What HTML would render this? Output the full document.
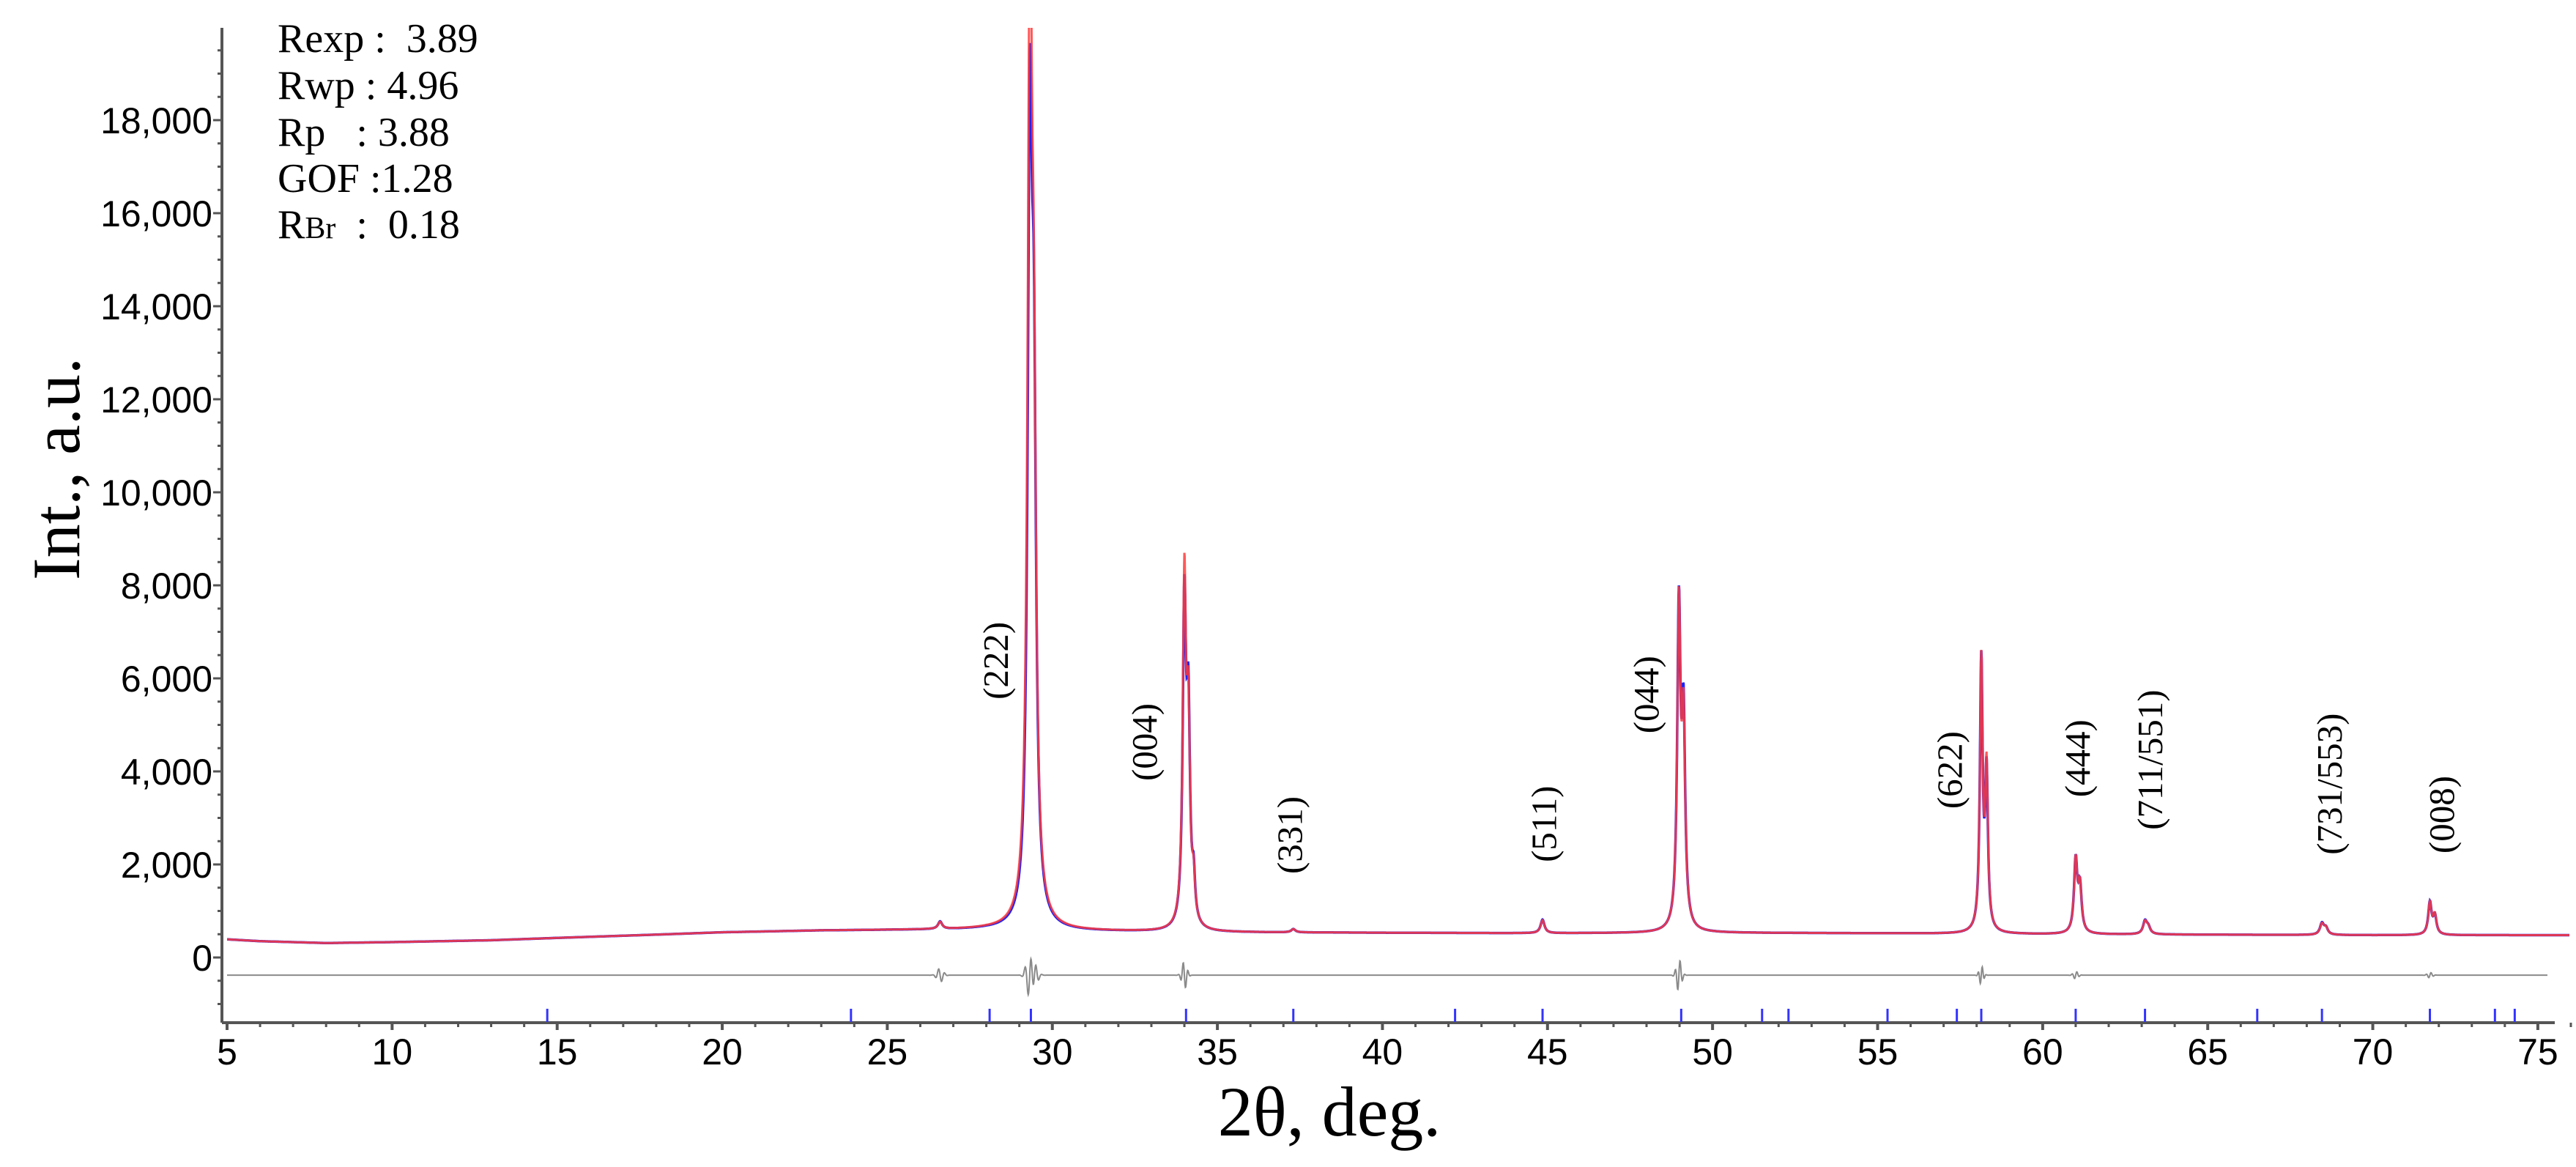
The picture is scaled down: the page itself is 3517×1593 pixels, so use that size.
<!DOCTYPE html>
<html><head><meta charset="utf-8">
<style>
html,body{margin:0;padding:0;background:#fff;}
svg{display:block;}
#stats text{white-space:pre;}
</style></head>
<body>
<svg id="chart" width="3517" height="1593" viewBox="0 0 3517 1593" xmlns="http://www.w3.org/2000/svg">
  <g id="stats" font-family="Liberation Serif, serif" font-size="56" fill="#000" xml:space="preserve">
    <text x="379" y="71">Rexp :  3.89</text>
    <text x="379" y="135">Rwp : 4.96</text>
    <text x="379" y="199">Rp   : 3.88</text>
    <text x="379" y="262">GOF :1.28</text>
    <text x="379" y="325">R<tspan font-size="42">Br</tspan>  :  0.18</text>
  </g>
  <text transform="translate(108,640) rotate(-90)" text-anchor="middle" font-family="Liberation Serif, serif" font-size="92">Int., a.u.</text>
  <text x="1815" y="1550" text-anchor="middle" font-family="Liberation Serif, serif" font-size="96">2θ, deg.</text>
  <g id="axes"></g>
  <g id="series"></g>
  <g id="labels"></g>
</svg>
<script>
// ---- data ----
const bgX = [5, 6, 8, 10, 13, 15, 18, 20, 23, 25, 28, 30, 35, 40, 45, 50, 55, 60, 65, 70, 76];
const bgY = [390, 350, 310, 330, 370, 420, 490, 540, 580, 590, 600, 570, 540, 530, 520, 530, 520, 500, 490, 480, 480];
const peakPos = [26.6, 29.32, 29.44, 34.0, 34.12, 34.28, 37.3, 44.85, 48.98, 49.12, 58.14, 58.3, 61.0, 61.13, 63.1, 63.2, 68.46, 68.58, 71.73, 71.88];
const calcHeight = [150, 19800, 9000, 7300, 4100, 800, 70, 280, 6800, 4200, 5800, 3400, 1550, 950, 260, 140, 230, 140, 680, 400];
const obsHeight = [160, 16000, 9600, 6800, 4300, 850, 70, 290, 6800, 4300, 5800, 3300, 1550, 950, 270, 140, 240, 140, 690, 390];
const peakWidth = [0.15, 0.16, 0.16, 0.12, 0.12, 0.1, 0.15, 0.14, 0.12, 0.12, 0.1, 0.1, 0.12, 0.12, 0.14, 0.14, 0.14, 0.14, 0.12, 0.12];
const diffAmp = [-150, 550, 350, -300, 0, 0, 0, 0, 350, 0, 200, 0, 80, 0, 0, 0, 0, 0, 60, 0];
const diffOffset = -380;
const reflPos = [14.7, 23.9, 28.1, 29.35, 34.05, 37.3, 42.2, 44.85, 49.05, 51.5, 52.3, 55.3, 57.4, 58.14, 61.0, 63.1, 66.5, 68.46, 71.73, 73.7, 74.3];
const xTicks = [5, 10, 15, 20, 25, 30, 35, 40, 45, 50, 55, 60, 65, 70, 75];
const yTicks = [0, 2000, 4000, 6000, 8000, 10000, 12000, 14000, 16000, 18000];
const yTickLabels = ["0", "2,000", "4,000", "6,000", "8,000", "10,000", "12,000", "14,000", "16,000", "18,000"];
const hklText = ["(222)", "(004)", "(331)", "(511)", "(044)", "(622)", "(444)", "(711/551)", "(731/553)", "(008)"];
const hklPos = [28.3, 32.8, 37.2, 44.9, 48.0, 57.2, 61.07, 63.27, 68.7, 72.1];
const hklCenterVal = [6380, 4630, 2630, 2870, 5650, 4030, 4280, 4250, 3730, 3070];

// ---- scales ----
const X0 = 310, PXD = 45.07, Y0 = 1307, PXI = 127 / 2000;
const PLOT_TOP = 38, AXIS_Y = 1396, AXIS_X = 303, AXIS_END = 3488;
const sx = v => X0 + (v - 5) * PXD;
const sy = v => Y0 - v * PXI;
const NS = "http://www.w3.org/2000/svg";
function mk(tag, attrs, parent) {
  const e = document.createElementNS(NS, tag);
  for (const k in attrs) e.setAttribute(k, attrs[k]);
  parent.appendChild(e);
  return e;
}
function bg(x) {
  for (let i = 0; i < bgX.length - 1; i++) {
    if (x <= bgX[i + 1]) { const t = (x - bgX[i]) / (bgX[i + 1] - bgX[i]); return bgY[i] + t * (bgY[i + 1] - bgY[i]); }
  }
  return bgY[bgY.length - 1];
}
function prof(x, heights) {
  let s = bg(x);
  for (let i = 0; i < peakPos.length; i++) {
    const d = (x - peakPos[i]) / (peakWidth[i] / 2);
    s += heights[i] / (1 + d * d);
  }
  return s;
}
function diff(x) {
  let s = diffOffset;
  for (let i = 0; i < peakPos.length; i++) {
    const d = (x - peakPos[i]) / (peakWidth[i] / 2);
    s += diffAmp[i] * Math.sin(d * 2.5) * Math.exp(-d * d / 3);
  }
  return s;
}
const axes = document.getElementById('axes');
const series = document.getElementById('series');
const labels = document.getElementById('labels');

const defs = mk('defs', {}, series);
const cp = mk('clipPath', { id: 'plotclip' }, defs);
mk('rect', { x: AXIS_X, y: PLOT_TOP, width: AXIS_END - AXIS_X + 20, height: AXIS_Y - PLOT_TOP }, cp);

let pObs = [], pCalc = [], pDiff = [];
for (let x = 5; x <= 76.05; x += 0.01) {
  const X = sx(x).toFixed(1);
  pObs.push(X + ',' + sy(prof(x, obsHeight)).toFixed(1));
  pCalc.push(X + ',' + sy(prof(x, calcHeight)).toFixed(1));
  if (x <= 75.3) pDiff.push(X + ',' + sy(diff(x)).toFixed(1));
}
const gDiff = mk('polyline', { points: pDiff.join(' '), fill: 'none', stroke: '#8a8a8a', 'stroke-width': 2 }, series);


const gObs = mk('polyline', { points: pObs.join(' '), fill: 'none', stroke: '#2222ee', 'stroke-width': 3.5, 'clip-path': 'url(#plotclip)' }, series);


const gCalc = mk('polyline', { points: pCalc.join(' '), fill: 'none', stroke: '#ff3b3b', 'stroke-width': 3, 'stroke-opacity': 0.85, 'clip-path': 'url(#plotclip)' }, series);



reflPos.forEach(p => {
  const l = mk('line', { x1: sx(p), x2: sx(p), y1: 1377, y2: AXIS_Y - 1, stroke: '#3333ff', 'stroke-width': 3 }, series);
  
  
});

const ya = mk('line', { x1: AXIS_X, x2: AXIS_X, y1: PLOT_TOP, y2: AXIS_Y, stroke: '#555', 'stroke-width': 4 }, axes);


const xa = mk('line', { x1: AXIS_X, x2: AXIS_END, y1: AXIS_Y, y2: AXIS_Y, stroke: '#555', 'stroke-width': 4 }, axes);



for (let d = 5; d <= 76; d++) {
  const major = xTicks.includes(d);
  mk('line', { x1: sx(d), x2: sx(d), y1: AXIS_Y, y2: AXIS_Y + (major ? 10 : 6), stroke: '#555', 'stroke-width': major ? 4 : 3 }, axes);
}
xTicks.forEach(v => {
  const t = mk('text', { x: sx(v), y: 1453, 'text-anchor': 'middle', 'font-family': 'Liberation Sans, sans-serif', 'font-size': 50 }, axes);
  t.textContent = v;
  
  
});
for (let v = -1000; v <= 19500; v += 500) {
  const major = v % 2000 === 0;
  mk('line', { x1: AXIS_X, x2: AXIS_X - (major ? 12 : 6), y1: sy(v), y2: sy(v), stroke: '#555', 'stroke-width': 3 }, axes);
}
yTicks.forEach((v, i) => {
  const t = mk('text', { x: 290, y: sy(v) + 18, 'text-anchor': 'end', 'font-family': 'Liberation Sans, sans-serif', 'font-size': 50 }, axes);
  t.textContent = yTickLabels[i];
  
  
});

hklText.forEach((s, i) => {
  const cx = sx(hklPos[i]), cy = sy(hklCenterVal[i]);
  const t = mk('text', { transform: `translate(${cx + 16},${cy}) rotate(-90)`, 'text-anchor': 'middle', 'font-family': 'Liberation Serif, serif', 'font-size': 49, fill: '#000' }, labels);
  t.textContent = s;
  
  
});
</script>
</body></html>
